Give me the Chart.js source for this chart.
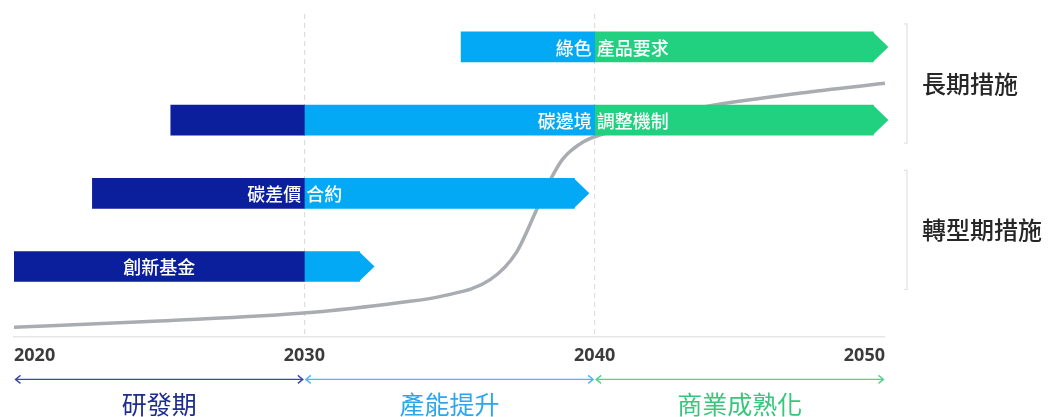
<!DOCTYPE html>
<html>
<head>
<meta charset="utf-8">
<script src="https://cdn.jsdelivr.net/npm/chart.js@4/dist/chart.umd.min.js"></script>
<style>
  html, body { margin: 0; padding: 0; background: #fff; }
  #wrap { width: 1064px; height: 417px; }
</style>
</head>
<body>
<div id="wrap"><canvas id="chart"></canvas></div>
<script>
// policy measures, one row each, top to bottom
const measures = ['綠色產品要求', '碳邊境調整機制', '碳差價合約', '創新基金'];
// text written inside each bar, and the year where the two pieces meet (single piece = centred)
const barText = [['綠色', '產品要求'], ['碳邊境', '調整機制'], ['碳差價', '合約'], ['創新基金']];
const textSplit = [2040, 2040, 2030, 2025];

// time span of each phase per row [start, end], null where the row has no such phase
const researchSpans = [null, [2025.4, 2030], [2022.7, 2030], [2020, 2030]];
const scaleUpSpans = [[2035.4, 2040], [2030, 2040], [2030, 2039.3], [2030, 2031.9]];
const commercialSpans = [[2040, 2049.6], [2040, 2049.6], null, null];

// s-curve (technology maturity)
const curveYears = [2020, 2025, 2030.2, 2033.3, 2034.7, 2036.4, 2037.3, 2038.0, 2038.5, 2038.9, 2039.6, 2040.5, 2041.5, 2043.6, 2047.1, 2050];
const curveValues = [2.8, 4.8, 7.4, 10.5, 12.4, 17.6, 26.0, 39.3, 49.0, 55.0, 60.3, 63.4, 66.2, 70.9, 75.5, 78.5];

// x axis
const tickYears = [2020, 2030, 2040, 2050];

// phases under the axis
const phaseNames = ['研發期', '產能提升', '商業成熟化'];
const phaseSpans = [[2020, 2030], [2030, 2040], [2040, 2050]];

// groups on the right
const groupNames = ['長期措施', '轉型期措施'];
const groupRows = [[0, 1], [2, 3]];

// colours
const navy = '#0b1e9c';
const sky = '#03a9f4';
const green = '#22d17f';
const phaseLineColors = ['#3c49a6', '#52b6f0', '#52d38e'];
const phaseTextColors = ['#1e2d8e', '#2ea6ea', '#36c77b'];
const cjk = "'Noto Sans CJK TC', 'Noto Sans', sans-serif";

function toBars(spans) {
  // keep the row index with every span
  return spans.map((s, i) => s ? { x: s, y: i } : null).filter(d => d);
}

// last year of each row, this is where the arrow tip goes
const rowEnd = measures.map((m, i) => Math.max(
  ...[researchSpans[i], scaleUpSpans[i], commercialSpans[i]].filter(s => s).map(s => s[1])
));

const overlayPlugin = {
  id: 'overlay',
  afterDatasetsDraw(chart) {
    const ctx = chart.ctx;
    const x = chart.scales.x;
    const y = chart.scales.y;

    // arrow tips at the end of every row
    chart.data.datasets.forEach((ds, di) => {
      if (ds.type === 'line') return;
      const meta = chart.getDatasetMeta(di);
      ds.data.forEach((d, j) => {
        if (d.x[1] !== rowEnd[d.y]) return;
        const el = meta.data[j];
        const h = el.height / 2;
        ctx.save();
        ctx.fillStyle = ds.backgroundColor;
        ctx.beginPath();
        ctx.moveTo(el.x - 0.5, el.y - h);
        ctx.lineTo(el.x + 15, el.y);
        ctx.lineTo(el.x - 0.5, el.y + h);
        ctx.closePath();
        ctx.fill();
        ctx.restore();
      });
    });

    // text inside bars
    ctx.save();
    ctx.fillStyle = '#ffffff';
    ctx.font = '500 18px ' + cjk;
    ctx.textBaseline = 'middle';
    barText.forEach((parts, i) => {
      const py = y.getPixelForValue(i) + 1;
      const px = x.getPixelForValue(textSplit[i]);
      if (parts.length === 1) {
        ctx.textAlign = 'center';
        ctx.fillText(parts[0], px, py);
      } else {
        ctx.textAlign = 'right';
        ctx.fillText(parts[0], px - 3, py);
        ctx.textAlign = 'left';
        ctx.fillText(parts[1], px + 2, py);
      }
    });
    ctx.restore();
  },
  afterDraw(chart) {
    const ctx = chart.ctx;
    const area = chart.chartArea;
    const x = chart.scales.x;
    const y = chart.scales.y;

    // brackets and group names on the right
    ctx.save();
    groupNames.forEach((name, g) => {
      const rows = groupRows[g];
      const top = y.getPixelForValue(rows[0]) - 23;
      const bottom = y.getPixelForValue(rows[rows.length - 1]) + 23;
      const bx = area.right + 22;
      ctx.strokeStyle = '#e2e2e2';
      ctx.lineWidth = 1.2;
      ctx.beginPath();
      ctx.moveTo(bx - 3, top);
      ctx.lineTo(bx, top);
      ctx.lineTo(bx, bottom);
      ctx.lineTo(bx - 3, bottom);
      ctx.stroke();
      ctx.fillStyle = '#262626';
      ctx.font = '500 24px ' + cjk;
      ctx.textAlign = 'left';
      ctx.textBaseline = 'middle';
      ctx.fillText(name, area.right + 37, (top + bottom) / 2);
    });

    // phases under the axis
    const ay = area.bottom + 43;
    phaseNames.forEach((name, p) => {
      const x0 = x.getPixelForValue(phaseSpans[p][0]) + 1.5;
      const x1 = x.getPixelForValue(phaseSpans[p][1]) - 1.5;
      ctx.strokeStyle = phaseLineColors[p];
      ctx.lineWidth = 1.4;
      ctx.beginPath();
      ctx.moveTo(x0, ay);
      ctx.lineTo(x1, ay);
      ctx.moveTo(x0 + 5, ay - 4);
      ctx.lineTo(x0, ay);
      ctx.lineTo(x0 + 5, ay + 4);
      ctx.moveTo(x1 - 5, ay - 4);
      ctx.lineTo(x1, ay);
      ctx.lineTo(x1 - 5, ay + 4);
      ctx.stroke();
      ctx.fillStyle = phaseTextColors[p];
      ctx.font = '400 25px ' + cjk;
      ctx.textAlign = 'center';
      ctx.textBaseline = 'middle';
      ctx.fillText(name, (x0 + x1) / 2, area.bottom + 68);
    });
    ctx.restore();
  }
};

new Chart(document.getElementById('chart'), {
  type: 'bar',
  data: {
    datasets: [
      { label: '研發期', data: toBars(researchSpans), backgroundColor: navy },
      { label: '產能提升', data: toBars(scaleUpSpans), backgroundColor: sky },
      { label: '商業成熟化', data: toBars(commercialSpans), backgroundColor: green },
      {
        type: 'line',
        label: 'curve',
        indexAxis: 'x',
        xAxisID: 'x',
        yAxisID: 'yv',
        data: curveYears.map((yr, i) => ({ x: yr, y: curveValues[i] })),
        borderColor: '#a9adb2',
        borderWidth: 3.5,
        pointRadius: 0,
        fill: false,
        cubicInterpolationMode: 'monotone',
        clip: false
      }
    ]
  },
  options: {
    indexAxis: 'y',
    responsive: true,
    maintainAspectRatio: false,
    animation: false,
    layout: { padding: { left: 14, right: 179, top: 14, bottom: 41 } },
    datasets: {
      bar: { grouped: false, barThickness: 30, borderWidth: 0, borderSkipped: false }
    },
    plugins: {
      legend: { display: false },
      tooltip: { enabled: false }
    },
    scales: {
      x: {
        type: 'linear',
        min: tickYears[0],
        max: tickYears[tickYears.length - 1],
        afterBuildTicks: (axis) => { axis.ticks = tickYears.map(v => ({ value: v })); },
        ticks: {
          align: 'inner',
          padding: 9,
          color: '#3b3b3b',
          font: { family: "'Noto Sans', sans-serif", size: 18, weight: 'bold' },
          callback: (v) => String(v)
        },
        grid: {
          drawTicks: false,
          color: (c) => (c.tick && (c.tick.value === 2030 || c.tick.value === 2040)) ? '#dedede' : 'rgba(0,0,0,0)',
          lineWidth: 1.2
        },
        border: { color: '#e6e6e6', width: 1.5, dash: [5, 4] }
      },
      y: {
        type: 'linear',
        axis: 'y',
        reverse: true,
        min: -0.45,
        max: 3.955,
        display: false,
        offset: false
      },
      yv: {
        type: 'linear',
        axis: 'y',
        min: 0,
        max: 100,
        display: false,
        offset: false
      }
    }
  },
  plugins: [overlayPlugin]
});
</script>
</body>
</html>
